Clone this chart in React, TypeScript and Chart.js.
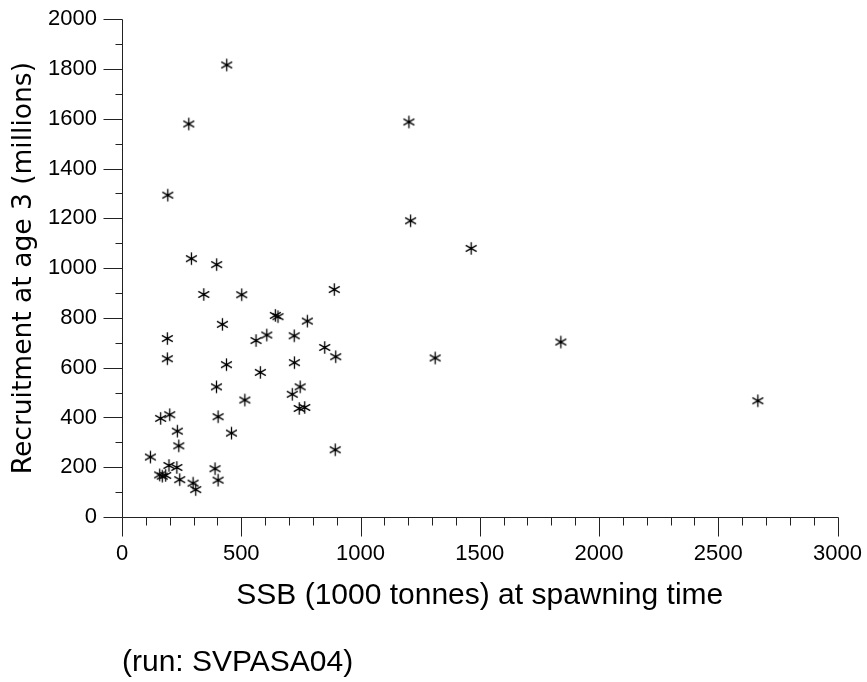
import React, { useEffect, useRef } from "react";
import { Chart, registerables } from "chart.js";

Chart.register(...registerables);

// SSB (1000 tonnes) at spawning time
const ssb: number[] = [
  439, 280, 192, 291, 397, 343, 502, 890, 421, 643,
  654, 777, 607, 562, 722, 850, 896, 190, 190, 438,
  723, 580, 396, 747, 714, 515, 743, 766, 403, 162,
  200, 232, 459, 238, 894, 119, 197, 230, 390, 158,
  169, 183, 242, 403, 298, 309, 1313, 1840, 1203, 1210,
  1464, 2666,
];
// Recruitment at age 3 (millions)
const recruitment: number[] = [
  1816, 1579, 1293, 1038, 1014, 894, 893, 914, 774, 810,
  805, 787, 731, 709, 728, 681, 644, 717, 636, 612,
  620, 581, 523, 523, 493, 470, 436, 440, 403, 396,
  411, 345, 337, 286, 270, 241, 207, 199, 194, 169,
  164, 167, 150, 148, 136, 110, 639, 703, 1587, 1190,
  1079, 467,
];

const xRange = [0, 3000];
const yRange = [0, 2000];
const xLabelStep = 500;
const yLabelStep = 200;
const minorStep = 100;

const xTitle = "SSB (1000 tonnes) at spawning time";
const yTitle = "Recruitment at age 3 (millions)";
const runNote = "(run: SVPASA04)";

function makeAsterisk(): HTMLCanvasElement {
  const c = document.createElement("canvas");
  c.width = 15;
  c.height = 15;
  const g = c.getContext("2d")!;
  g.strokeStyle = "#000";
  g.lineWidth = 1.3;
  const cx = 7.5, cy = 7.5, r = 6.3;
  g.beginPath();
  g.moveTo(cx, cy - r);
  g.lineTo(cx, cy + r);
  const dx = r * Math.cos(Math.PI / 6);
  const dy = r * Math.sin(Math.PI / 6);
  g.moveTo(cx - dx, cy - dy);
  g.lineTo(cx + dx, cy + dy);
  g.moveTo(cx - dx, cy + dy);
  g.lineTo(cx + dx, cy - dy);
  g.stroke();
  g.fillStyle = "#000";
  g.fillRect(cx - 1, cy - 1, 2, 2);
  return c;
}

const axisPlugin = {
  id: "axisTicks",
  afterDraw(chart: any) {
    const ctx = chart.ctx;
    const xs = chart.scales.x;
    const ys = chart.scales.y;
    const x0 = Math.round(xs.getPixelForValue(xRange[0])) + 0.5;
    const x1 = Math.round(xs.getPixelForValue(xRange[1])) + 0.5;
    const y0 = Math.round(ys.getPixelForValue(yRange[0])) + 0.5;
    const y1 = Math.round(ys.getPixelForValue(yRange[1])) + 0.5;
    ctx.save();
    ctx.strokeStyle = "#222";
    ctx.lineWidth = 1;
    ctx.beginPath();
    ctx.moveTo(x0, y1);
    ctx.lineTo(x0, y0);
    ctx.moveTo(x0, y0);
    ctx.lineTo(x1, y0);
    for (let v = xRange[0]; v <= xRange[1]; v += minorStep) {
      const px = Math.round(xs.getPixelForValue(v)) + 0.5;
      const len = v % xLabelStep === 0 ? 19 : 8;
      ctx.moveTo(px, y0);
      ctx.lineTo(px, y0 + len);
    }
    for (let v = yRange[0]; v <= yRange[1]; v += minorStep) {
      const py = Math.round(ys.getPixelForValue(v)) + 0.5;
      const len = v % yLabelStep === 0 ? 19 : 7;
      ctx.moveTo(x0, py);
      ctx.lineTo(x0 - len, py);
    }
    ctx.stroke();
    ctx.restore();
  },
};

export default function App() {
  const ref = useRef<HTMLCanvasElement | null>(null);

  useEffect(() => {
    if (!ref.current) return;
    const star = makeAsterisk();
    const chart = new Chart(ref.current, {
      type: "scatter",
      data: {
        datasets: [
          {
            data: ssb.map((x, i) => ({ x, y: recruitment[i] })),
            pointStyle: star as any,
            pointRadius: 6,
            borderColor: "#000",
            backgroundColor: "#000",
          },
        ],
      },
      options: {
        animation: false,
        responsive: false,
        maintainAspectRatio: false,
        events: [],
        layout: { padding: { left: 0, top: 16, right: 29.5, bottom: 0 } },
        plugins: {
          legend: { display: false },
          tooltip: { enabled: false },
        },
        scales: {
          x: {
            type: "linear",
            min: xRange[0],
            max: xRange[1],
            grid: {
              display: true,
              drawOnChartArea: false,
              drawTicks: true,
              tickLength: 19,
              tickColor: "rgba(0,0,0,0)",
            },
            border: { display: false },
            ticks: {
              stepSize: xLabelStep,
              autoSkip: false,
              maxRotation: 0,
              padding: 5,
              color: "#000",
              font: { family: "'Liberation Sans', Arial, sans-serif", size: 22 },
              callback: (v: any) => String(v),
            },
            title: {
              display: true,
              text: xTitle,
              color: "#000",
              font: { family: "'Liberation Sans', Arial, sans-serif", size: 30 },
              padding: { top: 0, bottom: 68 },
            },
            afterFit(scale: any) {
              scale.height = 165;
            },
          },
          y: {
            type: "linear",
            min: yRange[0],
            max: yRange[1],
            grid: {
              display: true,
              drawOnChartArea: false,
              drawTicks: true,
              tickLength: 19,
              tickColor: "rgba(0,0,0,0)",
            },
            border: { display: false },
            ticks: {
              stepSize: yLabelStep,
              autoSkip: false,
              padding: 6,
              color: "#000",
              font: { family: "'Liberation Sans', Arial, sans-serif", size: 22 },
              callback: (v: any) => String(v),
            },
            title: {
              display: true,
              text: yTitle,
              color: "#000",
              font: { family: "'DejaVu Sans', sans-serif", size: 26.5 },
              padding: { top: 8, bottom: 0 },
            },
            afterFit(scale: any) {
              scale.width = 122;
            },
          },
        },
      },
      plugins: [axisPlugin],
    });
    return () => chart.destroy();
  }, []);

  return (
    <div style={{ position: "absolute", left: 0, top: 0, width: 867, height: 682, background: "#fff" }}>
      <canvas ref={ref} width={867} height={682} style={{ display: "block", width: 867, height: 682 }} />
      <div
        style={{
          position: "absolute",
          left: 122,
          top: 644,
          fontFamily: "'Liberation Sans', Arial, sans-serif",
          fontSize: 30,
          lineHeight: "34px",
          color: "#000",
          whiteSpace: "nowrap",
        }}
      >
        {runNote}
      </div>
    </div>
  );
}
